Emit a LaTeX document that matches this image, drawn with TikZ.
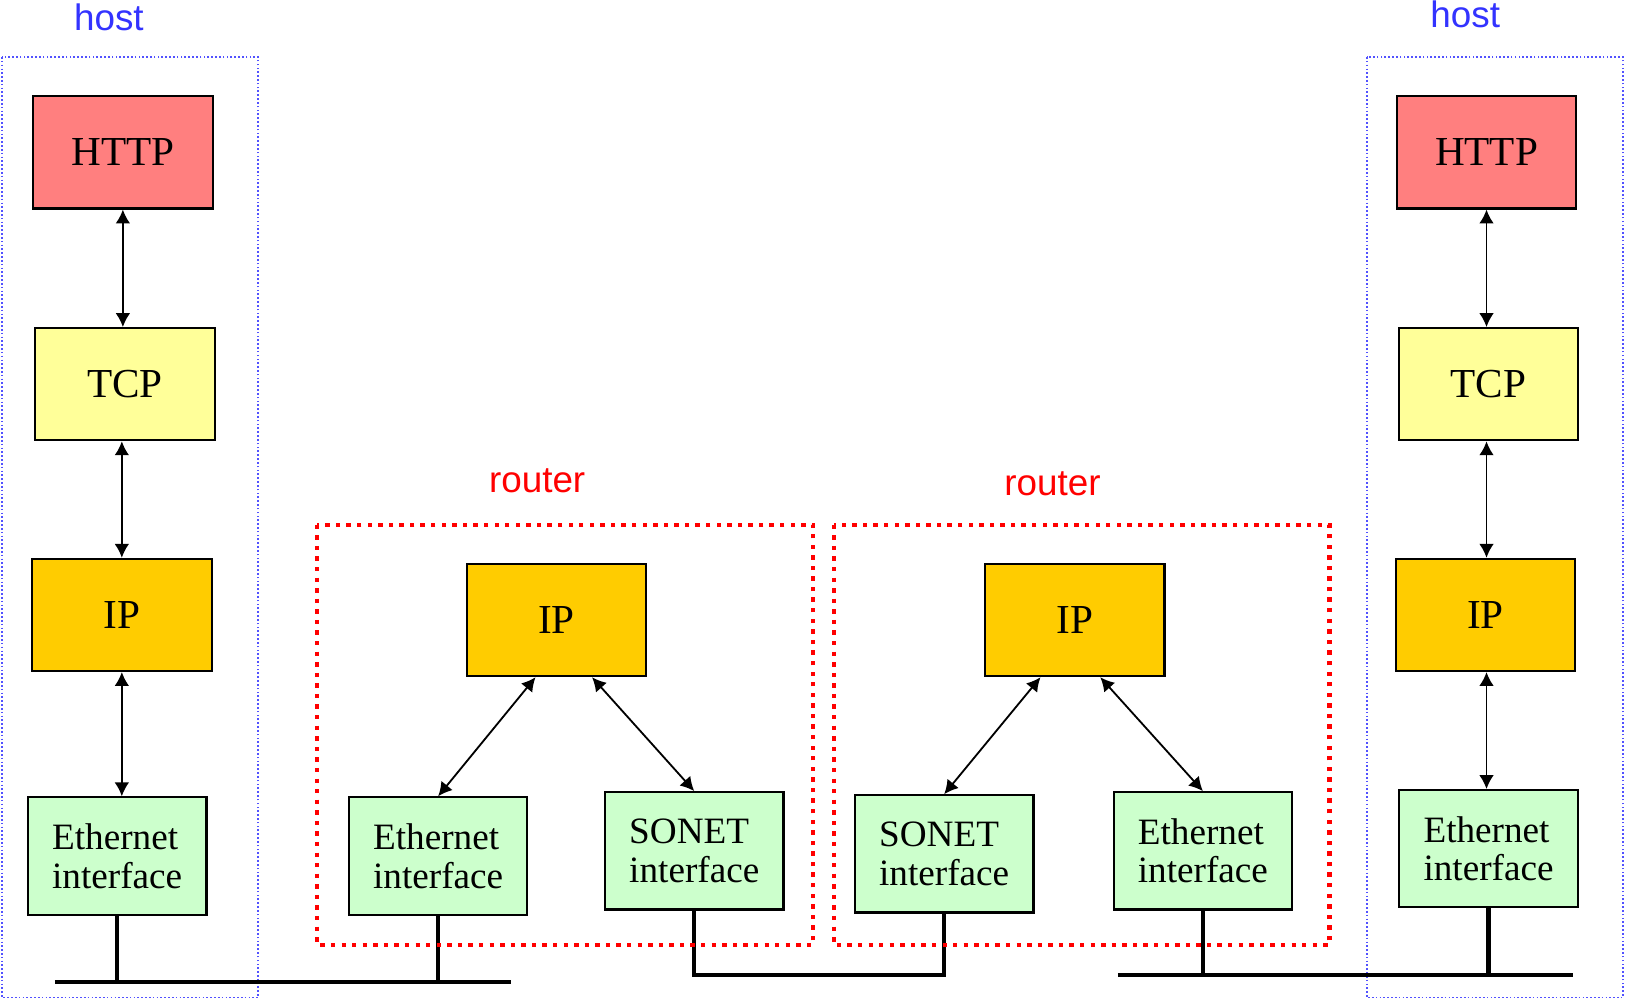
\documentclass[tikz,border=0pt]{standalone}
\usepackage{fontspec}
\setmainfont{Liberation Serif}
\newfontfamily\labelfont{Liberation Sans}
\usetikzlibrary{arrows.meta}

\definecolor{httpred}{HTML}{FF7F7F}
\definecolor{tcpyellow}{HTML}{FFFF99}
\definecolor{iporange}{HTML}{FFCC00}
\definecolor{ifgreen}{HTML}{CCFFCC}
\definecolor{hostblue}{HTML}{3333FF}
\definecolor{routerred}{HTML}{FF0000}

\begin{document}
\begin{tikzpicture}[x=0.01cm,y=-0.01cm,
  layer/.style={draw,line width=0.6pt,minimum width=1.73cm,minimum height=1.08cm,inner sep=0pt,font=\fontsize{11.3}{13}\selectfont},
  iface/.style={draw,line width=0.6pt,fill=ifgreen,minimum width=1.72cm,minimum height=1.13cm,inner sep=0pt,align=left,font=\fontsize{10.2}{10.6}\selectfont},
  updown/.style={{Latex[length=3.8pt,width=4pt]}-{Latex[length=3.8pt,width=4pt]},line width=0.5pt},
  wire/.style={line width=1.2pt},
  hostbox/.style={hostblue!85,dash pattern=on 0.45pt off 0.6pt,line width=0.5pt},
  routerbox/.style={routerred,dash pattern=on 1.2pt off 1.7pt,line width=1.15pt},
  grouplabel/.style={font=\labelfont\fontsize{10.1}{12}\selectfont}]
  \useasboundingbox (0,0) rectangle (1568,965);

  % hosts
  \draw[hostbox] (2,55) rectangle (249,962);
  \draw[hostbox] (1318,55) rectangle (1565,962);
  \node[grouplabel,text=hostblue] (hostL) at (105,17) {host};
  \node[grouplabel,text=hostblue] (hostR) at (1413,14) {host};

  \node[layer,fill=httpred] (httpL) at (118.5,147) {HTTP};
  \node[layer,fill=tcpyellow] (tcpL) at (120.5,370.5) {TCP};
  \node[layer,fill=iporange] (ipL) at (117.5,593) {IP};
  \node[iface] (ethL) at (113,825.5) {Ethernet\\interface};
  \draw[updown] (httpL.south) -- (httpL.south |- tcpL.north);
  \draw[updown] (tcpL.south -| ipL) -- (ipL.north);
  \draw[updown] (ipL.south) -- (ipL.south |- ethL.north);

  \node[layer,fill=httpred] (httpR) at (1433.5,147) {HTTP};
  \node[layer,fill=tcpyellow] (tcpR) at (1435.5,370.5) {TCP};
  \node[layer,fill=iporange] (ipR) at (1432.5,593) {IP};
  \node[iface] (ethR) at (1435.5,818.5) {Ethernet\\interface};
  \draw[updown] (httpR.south) -- (httpR.south |- tcpR.north);
  \draw[updown] (tcpR.south -| httpR) -- (httpR |- ipR.north);
  \draw[updown] (ipR.south -| httpR) -- (httpR |- ethR.north);

  % routers
  \node[layer,fill=iporange] (ipA) at (536.5,598) {IP};
  \node[iface] (ethA) at (422.5,825.5) {Ethernet\\interface};
  \node[iface] (sonA) at (669.5,820.5) {SONET\\interface};
  \draw[updown] (ipA.-110) -- (ethA.north);
  \draw[updown] (ipA.-58) -- (sonA.north);

  \node[layer,fill=iporange] (ipB) at (1036.5,598) {IP};
  \node[iface] (sonB) at (910.5,823.5) {SONET\\interface};
  \node[iface] (ethB) at (1160,820.5) {Ethernet\\interface};
  \draw[updown] (ipB.-121) -- (sonB.north);
  \draw[updown] (ipB.-66) -- (ethB.north);

  % links
  \coordinate (lanL-w) at (53,947);
  \coordinate (lanL-e) at (493,947);
  \draw[wire] (lanL-w) -- (lanL-e);
  \draw[wire] (ethL.south) -- (ethL.south |- lanL-w);
  \draw[wire] (ethA.south) -- (ethA.south |- lanL-w);

  \coordinate (lanM) at (0,940);
  \draw[wire] (sonA.south) -- (sonA.south |- lanM) -- (sonB.south |- lanM) -- (sonB.south);

  \coordinate (lanR-w) at (1078,940);
  \coordinate (lanR-e) at (1517,940);
  \draw[wire] (lanR-w) -- (lanR-e);
  \draw[wire] (ethB.south) -- (ethB.south |- lanR-w);
  \draw[wire] (ethR.south) -- (ethR.south |- lanR-w);

  \draw[routerbox] (306,506) rectangle (784,911);
  \draw[routerbox] (804,506) rectangle (1282,911);
  \node[grouplabel,text=routerred] (routerA) at (518,464) {router};
  \node[grouplabel,text=routerred] (routerB) at (1015,467) {router};
\end{tikzpicture}
\end{document}
